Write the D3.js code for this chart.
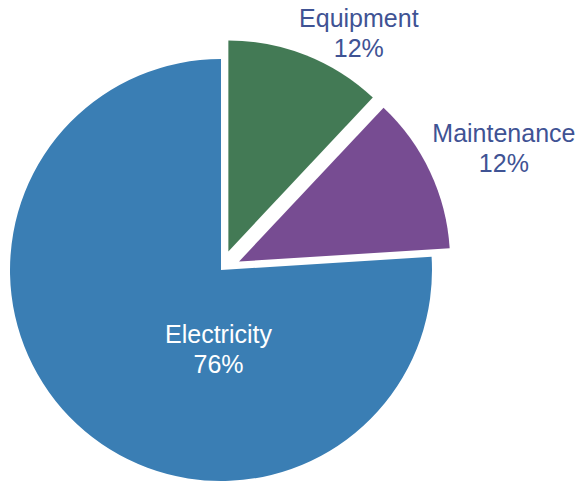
<!DOCTYPE html>
<html>
    <head>
        <meta charset="utf-8">
        <title>Cost breakdown pie</title>
        <script src="https://d3js.org/d3.v7.min.js"></script>
        <style>
            body {
                margin: 0;
                background-color: #ffffff;
                font-family: "Liberation Sans", Arial, sans-serif;
            }
            svg {
                display: block;
            }
        </style>
    </head>
    <body>
        <svg width="579" height="483"></svg>

        <script>
            // chart data
            const categories = ["Equipment", "Maintenance", "Electricity"];
            const values = [12, 12, 76];
            const colors = ["#437a55", "#774c92", "#3a7eb4"];
            const exploded = ["Equipment", "Maintenance"];

            const width = 579, height = 483;
            const cx = 221, cy = 270, radius = 211;
            const explodeBy = 20;

            let svg = d3.select("svg");
            let g = svg.append("g").attr("transform", `translate(${cx},${cy})`);

            let pieData = categories.map((c, i) => ({ name: c, value: values[i], color: colors[i] }));

            let pie = d3.pie()
                .sort(null)
                .value(d => d.value)
                .startAngle(0)
                .endAngle(2 * Math.PI);

            let arc = d3.arc().innerRadius(0).outerRadius(radius);

            let arcs = pie(pieData);

            // offset for exploded slices, along the mid angle
            function shift(d) {
                if (!exploded.includes(d.data.name)) return [0, 0];
                let a = (d.startAngle + d.endAngle) / 2;
                return [Math.sin(a) * explodeBy, -Math.cos(a) * explodeBy];
            }

            g.selectAll("path")
                .data(arcs)
                .enter()
                .append("path")
                .attr("d", arc)
                .attr("fill", d => d.data.color)
                .attr("transform", d => {
                    let s = shift(d);
                    return `translate(${s[0]},${s[1]})`;
                });

            // label placement (angle in degrees from 12 o'clock, distance from centre)
            const labelPlace = {
                "Equipment": { angle: 30.2, dist: 274, fill: "#3f5394" },
                "Maintenance": { angle: 66.7, dist: 308, fill: "#3f5394" },
                "Electricity": { angle: 181.8, dist: 79, fill: "#ffffff" }
            };

            let labels = g.selectAll("text.lbl")
                .data(arcs)
                .enter()
                .append("text")
                .attr("class", "lbl")
                .attr("text-anchor", "middle")
                .attr("font-size", "25px")
                .attr("fill", d => labelPlace[d.data.name].fill)
                .attr("transform", d => {
                    let p = labelPlace[d.data.name];
                    let a = p.angle * Math.PI / 180;
                    return `translate(${Math.sin(a) * p.dist},${-Math.cos(a) * p.dist})`;
                });

            labels.append("tspan")
                .attr("x", 0)
                .attr("y", -6)
                .text(d => d.data.name);

            labels.append("tspan")
                .attr("x", 0)
                .attr("y", 24)
                .text(d => d3.format(".0f")(d.value) + "%");
        </script>
    </body>
</html>
